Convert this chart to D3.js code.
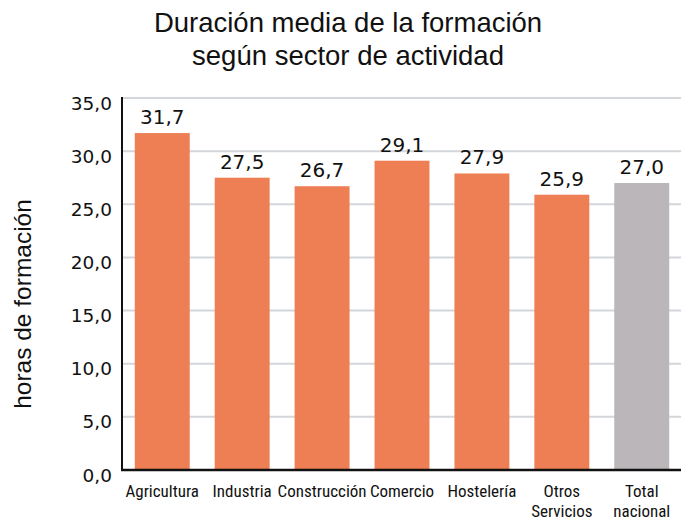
<!DOCTYPE html>
<html>
<head>
<meta charset="utf-8">
<script src="https://cdn.jsdelivr.net/npm/d3@7"></script>
<style>
  body { margin: 0; background: #fff; }
</style>
</head>
<body>
<div class="chart-area"></div>
<script>
const sectors = ["Agricultura", "Industria", "Construcción", "Comercio", "Hostelería", "Otros Servicios", "Total nacional"];
const hours = [31.7, 27.5, 26.7, 29.1, 27.9, 25.9, 27.0];
const yTicks = [0, 5, 10, 15, 20, 25, 30, 35];

let outerWidth = 681;
let outerHeight = 521;
let margin = {top: 98, right: 0, bottom: 51, left: 122};
let width = outerWidth - margin.left - margin.right, height = outerHeight - margin.top - margin.bottom;

let svg = d3.select('.chart-area').append('svg')
    .attr('width', outerWidth)
    .attr('height', outerHeight);

let g = svg.append("g")
    .attr("transform", "translate(" + margin.left + "," + margin.top + ")");

let xScale = d3.scaleBand()
    .domain(sectors)
    .range([0, 560])
    .paddingInner(0.3125)
    .paddingOuter(0.16);

let yScale = d3.scaleLinear()
    .domain([0, 35])
    .range([height, 0]);

let comma = d => d3.format('.1f')(d).replace('.', ',');

// grid lines
g.selectAll('line.grid')
    .data(yTicks.filter(d => d > 0))
    .enter()
    .append('line')
    .attr('class', 'grid')
    .attr('x1', 0)
    .attr('x2', width)
    .attr('y1', d => yScale(d))
    .attr('y2', d => yScale(d))
    .attr('stroke', '#d3d6db')
    .attr('stroke-width', 2);

let yAxis = d3.axisLeft(yScale).tickValues(yTicks).tickSize(0).tickPadding(10).tickFormat(comma);
let yaxis = g.append("g").attr("class", "axis y-axis").call(yAxis);
yaxis.select(".domain").remove();
yaxis.selectAll("text")
    .attr("font-family", "'DejaVu Sans', Verdana, sans-serif")
    .attr("font-size", 18.5)
    .attr("fill", "#111")
    .attr("dy", "0.6em");

// bars
g.selectAll('rect.bar')
    .data(sectors)
    .enter()
    .append('rect')
    .attr('class', 'bar')
    .attr('x', d => xScale(d))
    .attr('width', xScale.bandwidth())
    .attr('y', (d, i) => yScale(hours[i]))
    .attr('height', (d, i) => height - yScale(hours[i]))
    .attr('fill', (d, i) => i === sectors.length - 1 ? '#bab6b9' : '#ee7e53');

// value labels
g.selectAll('text.val')
    .data(sectors)
    .enter()
    .append('text')
    .attr('class', 'val')
    .attr('x', d => xScale(d) + xScale.bandwidth() / 2)
    .attr('y', (d, i) => yScale(hours[i]) - 9)
    .attr('text-anchor', 'middle')
    .attr('font-family', "'DejaVu Sans', Verdana, sans-serif")
    .attr('font-size', 20)
    .attr('fill', '#111')
    .text((d, i) => comma(hours[i]));

// axis lines
g.append('line')
    .attr('x1', 0).attr('x2', 0)
    .attr('y1', -1).attr('y2', height)
    .attr('stroke', '#111').attr('stroke-width', 2);
g.append('line')
    .attr('x1', -1).attr('x2', width)
    .attr('y1', height).attr('y2', height)
    .attr('stroke', '#111').attr('stroke-width', 2.5);

// category labels
let cat = g.selectAll('text.cat')
    .data(sectors)
    .enter()
    .append('text')
    .attr('class', 'cat')
    .attr('x', d => xScale(d) + xScale.bandwidth() / 2)
    .attr('y', height + 27)
    .attr('text-anchor', 'middle')
    .attr('font-family', "'Liberation Sans Narrow', 'Roboto Condensed', 'DejaVu Sans Condensed', sans-serif")
    .attr('font-stretch', 'condensed')
    .attr('font-size', 17)
    .attr('fill', '#111');

cat.each(function(d) {
    let words = (d === "Otros Servicios" || d === "Total nacional") ? d.split(" ") : [d];
    let t = d3.select(this);
    words.forEach((w, k) => {
        t.append('tspan')
            .attr('x', xScale(d) + xScale.bandwidth() / 2)
            .attr('dy', k === 0 ? 0 : 20)
            .text(w);
    });
});

// title
let title = svg.append('text')
    .attr('text-anchor', 'middle')
    .attr('font-family', "'Liberation Sans', Arial, Helvetica, sans-serif")
    .attr('font-size', 27.5)
    .attr('fill', '#111');
title.append('tspan').attr('x', 348).attr('y', 32).text("Duración media de la formación");
title.append('tspan').attr('x', 348).attr('y', 65).text("según sector de actividad");

// y label
svg.append('text')
    .attr('transform', 'translate(31,' + 304 + ') rotate(-90)')
    .attr('text-anchor', 'middle')
    .attr('font-family', "'Liberation Sans', Arial, Helvetica, sans-serif")
    .attr('font-size', 24.5)
    .attr('fill', '#111')
    .text("horas de formación");
</script>
</body>
</html>
